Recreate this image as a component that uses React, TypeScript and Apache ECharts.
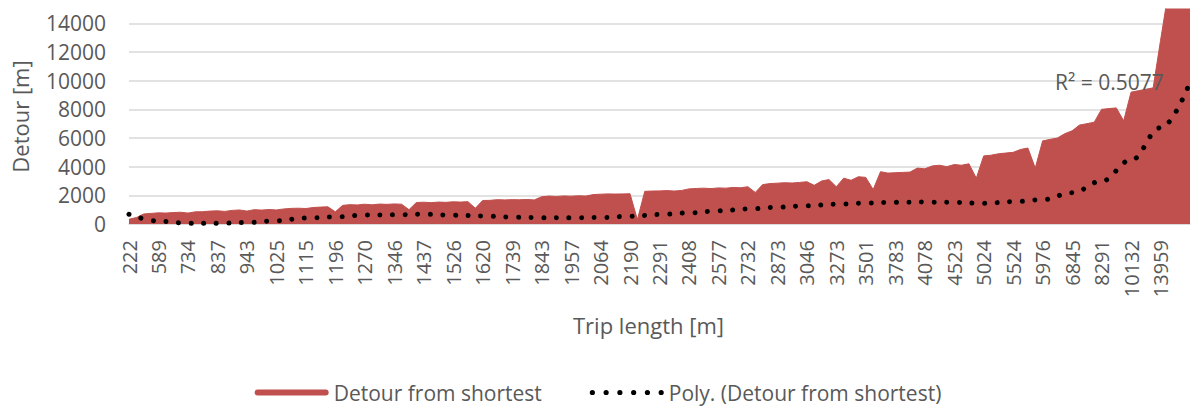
import { useEffect, useRef } from 'react';
import * as echarts from 'echarts';

// Trip length tick labels (one per label slot on the category-like x axis)
const tickLabels = [
  '222', '589', '734', '837', '943', '1025', '1115', '1196', '1270', '1346', '1437', '1526',
  '1620', '1739', '1843', '1957', '2064', '2190', '2291', '2408', '2577', '2732', '2873', '3046',
  '3273', '3501', '3783', '4078', '4523', '5024', '5524', '5976', '6845', '8291', '10132', '13959',
];

// Sub-samples of the detour series between two tick labels
const SUB = 4;

// Upper envelope of the detour series (m), SUB values per tick label, plus the end point
const detour = [
  330, 450, 700, 740,
  780, 760, 800, 820,
  760, 850, 860, 900,
  920, 880, 950, 980,
  900, 1000, 970, 1010,
  980, 1050, 1090, 1100,
  1080, 1150, 1180, 1200,
  850, 1300, 1350, 1330,
  1380, 1340, 1390, 1370,
  1400, 1380, 1000, 1500,
  1520, 1490, 1530, 1510,
  1550, 1530, 1560, 1100,
  1640, 1650, 1700, 1680,
  1700, 1690, 1710, 1680,
  1900, 1950, 1920, 1960,
  1940, 1970, 1950, 2050,
  2080, 2100, 2090, 2100,
  2110, 300, 2280, 2300,
  2310, 2330, 2300, 2340,
  2450, 2480, 2500, 2470,
  2520, 2500, 2550, 2530,
  2600, 2200, 2750, 2820,
  2850, 2880, 2860, 2900,
  2950, 2700, 3000, 3100,
  2600, 3200, 3050, 3300,
  3250, 2400, 3650, 3550,
  3580, 3600, 3620, 3900,
  3850, 4050, 4100, 4000,
  4150, 4100, 4200, 3200,
  4750, 4800, 4900, 4950,
  5000, 5200, 5300, 3900,
  5800, 5900, 6000, 6300,
  6500, 6900, 7000, 7100,
  8000, 8050, 8100, 7200,
  9200, 9300, 9400, 9500,
  12800, 16000, 16000, 16000,
  16000,
];

// Polynomial trend line (m), one value per tick label, plus the end point
const polyTrend = [
  680, 200, 50, 50, 100, 230, 420, 500, 620, 640, 680, 620,
  560, 480, 440, 430, 450, 540, 660, 780, 920, 1050, 1170, 1280,
  1380, 1460, 1520, 1530, 1510, 1440, 1560, 1700, 2180, 2990, 4460, 6710,
  9900,
];

const yTicks = [0, 2000, 4000, 6000, 8000, 10000, 12000, 14000];
const Y_MAX = 15000;
const r2Text = 'R² = 0.5077';

const seriesNames = ['Detour from shortest', 'Poly. (Detour from shortest)'];

const RED = '#C0504D';
const GREY = '#595959';
const GRID = '#d9d9d9';
const FONT = "'Open Sans', sans-serif";

function capsuleIcon(w: number, h: number) {
  const r = h / 2;
  return `path://M${r},0 L${w - r},0 A${r},${r} 0 0 1 ${w - r},${h} L${r},${h} A${r},${r} 0 0 1 ${r},0 Z`;
}

function dotsIcon(w: number, n: number, r: number) {
  const step = (w - 2 * r) / (n - 1);
  let d = '';
  for (let k = 0; k < n; k++) {
    const cx = r + k * step;
    d += `M${cx - r},${r} a${r},${r} 0 1,0 ${2 * r},0 a${r},${r} 0 1,0 ${-2 * r},0 Z `;
  }
  return 'path://' + d.trim();
}

export default function App() {
  const ref = useRef<HTMLDivElement>(null);

  useEffect(() => {
    if (!ref.current) return;
    const chart = echarts.init(ref.current, undefined, { renderer: 'svg' });
    const xMax = tickLabels.length * SUB;
    chart.setOption({
      animation: false,
      textStyle: { fontFamily: FONT },
      grid: { left: 129, right: 6, top: 9, bottom: 187 },
      xAxis: {
        type: 'value',
        min: 0,
        max: xMax,
        interval: SUB,
        name: 'Trip length [m]',
        nameLocation: 'middle',
        nameGap: 90,
        nameTextStyle: { fontSize: 22, color: GREY, fontFamily: FONT, padding: [0, 22, 0, 0] },
        axisLine: { show: true, lineStyle: { color: GRID, width: 1.5 } },
        axisTick: { show: false },
        splitLine: { show: false },
        axisLabel: {
          rotate: 90,
          margin: 16,
          fontSize: 20,
          color: GREY,
          fontFamily: FONT,
          formatter: (v: number) => tickLabels[Math.round(v / SUB)] ?? '',
        },
      },
      yAxis: {
        type: 'value',
        min: 0,
        max: Y_MAX,
        interval: 2000,
        name: 'Detour [m]',
        nameLocation: 'middle',
        nameGap: 98,
        nameTextStyle: { fontSize: 22, color: GREY, fontFamily: FONT },
        axisLine: { show: false },
        axisTick: { show: false },
        axisLabel: {
          margin: 23,
          fontSize: 21,
          color: GREY,
          fontFamily: FONT,
          formatter: (v: number) => (yTicks.includes(v) ? String(v) : ''),
        },
        splitLine: { show: true, showMaxLine: false, lineStyle: { color: GRID, width: 1.5 } },
      },
      legend: {
        top: 380,
        left: 'center',
        itemWidth: 74,
        itemHeight: 6,
        itemGap: 48,
        padding: 2,
        itemStyle: { borderWidth: 0 },
        textStyle: { fontSize: 21, color: GREY, fontFamily: FONT },
        data: [
          { name: seriesNames[0], icon: capsuleIcon(74, 6) },
          { name: seriesNames[1], icon: dotsIcon(74, 6, 2.6) },
        ],
      },
      graphic: [
        {
          type: 'text',
          x: 1055,
          y: 82,
          z: 10,
          style: {
            text: r2Text,
            fontSize: 21,
            fontFamily: FONT,
            fill: GREY,
            verticalAlign: 'middle',
          },
        },
      ],
      series: [
        {
          name: seriesNames[0],
          type: 'line',
          data: detour.map((v, i) => [i, v]),
          symbol: 'none',
          showSymbol: false,
          lineStyle: { color: RED, width: 1 },
          areaStyle: { color: RED, opacity: 1 },
          itemStyle: { color: RED },
          z: 2,
        },
        {
          name: seriesNames[1],
          type: 'line',
          data: polyTrend.map((v, k) => [k * SUB, v]),
          symbol: 'none',
          showSymbol: false,
          smooth: 0.4,
          smoothMonotone: 'x',
          lineStyle: { color: '#000', width: 5, type: [0.01, 12.6], cap: 'round' },
          itemStyle: { color: '#000' },
          z: 3,
        },
      ],
    });
    return () => chart.dispose();
  }, []);

  return (
    <div
      ref={ref}
      style={{ position: 'fixed', left: 0, top: 0, width: 1196, height: 411, background: '#fff' }}
    />
  );
}
